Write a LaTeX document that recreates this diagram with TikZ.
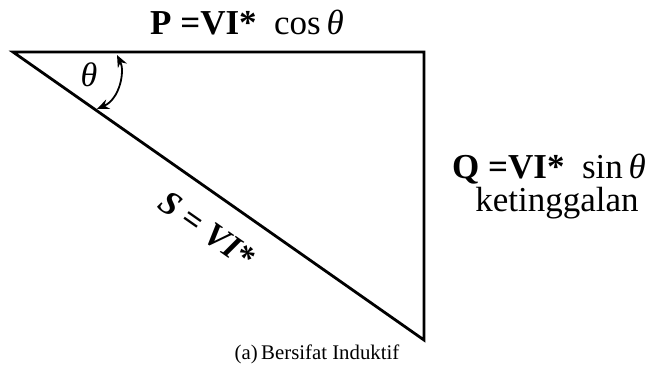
\documentclass[tikz,border=0pt]{standalone}
\usepackage{fontspec}
\setmainfont{Liberation Serif}
\usetikzlibrary{arrows.meta}
\begin{document}
\begin{tikzpicture}[x=1pt,y=1pt,
  side/.style={line width=2.8pt,line join=miter},
  lbl/.style={inner sep=0pt,font=\fontsize{35}{40}\selectfont},
  captxt/.style={inner sep=0pt,font=\fontsize{20.8}{24}\selectfont},
  anglemark/.style={line width=1.8pt,{Stealth[length=12pt,width=10pt]}-{Stealth[length=12pt,width=10pt]}}]
\useasboundingbox (0,0) rectangle (657,367);
\coordinate (A) at (13,315);
\coordinate (B) at (424,315);
\coordinate (C) at (424,27);
\draw[side] (A) -- (B) -- (C) -- cycle;
\coordinate (T1) at (117,312);
\coordinate (T2) at (97,258);
\draw[anglemark] (T1) .. controls (125,296) and (120,268) .. (T2);
\node[lbl,font=\fontsize{34}{40}\selectfont] (th) at (89,292) {\textit{θ}};
\node[lbl,anchor=base] (P) at (247,332) {\textbf{P =VI*}\ \ cos\,\textit{θ}};
\node[lbl,anchor=base west] (Q) at (452,188) {\textbf{Q =VI*}\ \ sin\,\textit{θ}};
\node[lbl,anchor=base] (k) at (557,155) {ketinggalan};
\node[lbl,font=\fontsize{34}{40}\selectfont,rotate=-35] (S) at (207,137) {\textbf{\textit{S = VI*}}};
\node[captxt,anchor=base] (c) at (317,7) {(a)\,Bersifat Induktif};
\end{tikzpicture}
\end{document}
